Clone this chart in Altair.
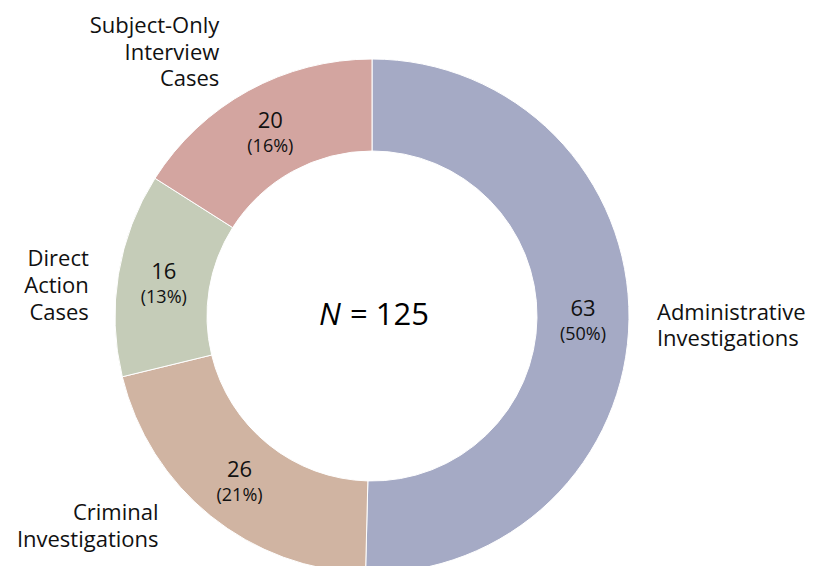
import altair as alt
import pandas as pd

categories = ["Administrative Investigations", "Criminal Investigations",
              "Direct Action Cases", "Subject-Only Interview Cases"]
labels = ["Administrative\nInvestigations", "Criminal\nInvestigations",
          "Direct\nAction\nCases", "Subject-Only\nInterview\nCases"]
counts = [63, 26, 16, 20]
percents = ["(50%)", "(21%)", "(13%)", "(16%)"]
colors = ["#A5AAC5", "#D0B4A2", "#C5CCB8", "#D3A5A0"]
total = sum(counts)

df = pd.DataFrame({
    "cat": categories,
    "label": labels,
    "count": counts,
    "pct": percents,
    "order": list(range(len(categories))),
})

FONT = "Open Sans"
CX, CY = 364, 308
INNER, OUTER = 165, 257

base = alt.Chart(df).encode(
    theta=alt.Theta("count:Q", stack=True),
    order=alt.Order("order:Q"),
    detail="cat:N",
    x=alt.value(CX),
    y=alt.value(CY),
)

arc = base.mark_arc(innerRadius=INNER, outerRadius=OUTER, stroke="white", strokeWidth=1).encode(
    color=alt.Color("cat:N", scale=alt.Scale(domain=categories, range=colors), legend=None)
)

num = base.mark_text(radius=211, dy=-10, fontSize=22, font=FONT, color="#111111").encode(
    text="count:Q"
)
pct = base.mark_text(radius=211, dy=16, fontSize=18, font=FONT, color="#111111").encode(
    text="pct:N"
)

lab_base = alt.Chart(df).transform_window(
    cum="sum(count)", sort=[alt.SortField("order")], frame=[None, 0]
).transform_calculate(mid="datum.cum - datum.count / 2")

label_style = {
    "Administrative Investigations": dict(radius=285, align="left", dx=0, dy=-7),
    "Criminal Investigations": dict(radius=270, align="right", dx=-44, dy=-13),
    "Direct Action Cases": dict(radius=285, align="right", dx=-2, dy=-10.5),
    "Subject-Only Interview Cases": dict(radius=290, align="right", dx=-13, dy=-36),
}

label_layers = []
for c in categories:
    st = label_style[c]
    label_layers.append(
        lab_base.transform_filter(alt.datum.cat == c).mark_text(
            fontSize=22, font=FONT, color="#111111", lineBreak="\n", lineHeight=26.8,
            baseline="middle", **st
        ).encode(
            theta=alt.Theta("mid:Q", stack=None, scale=alt.Scale(domain=[0, total])),
            text="label:N",
            x=alt.value(CX),
            y=alt.value(CY),
        )
    )

center_df = pd.DataFrame({"a": ["N"], "b": ["= " + str(total)]})
center_n = alt.Chart(center_df).mark_text(
    fontSize=31, font=FONT, fontStyle="italic", align="center", dx=-42, color="#000000"
).encode(text="a:N", x=alt.value(CX), y=alt.value(CY))
center_rest = alt.Chart(center_df).mark_text(
    fontSize=31, font=FONT, align="left", dx=-22, color="#000000"
).encode(text="b:N", x=alt.value(CX), y=alt.value(CY))

chart = alt.layer(arc, num, pct, *label_layers, center_n, center_rest).resolve_scale(
    theta="independent"
).properties(
    width=800, height=558, autosize=alt.AutoSizeParams(type="none"), padding=0
).configure_view(stroke=None)

chart.save("out.html", embed_options={"renderer": "svg", "actions": False})
